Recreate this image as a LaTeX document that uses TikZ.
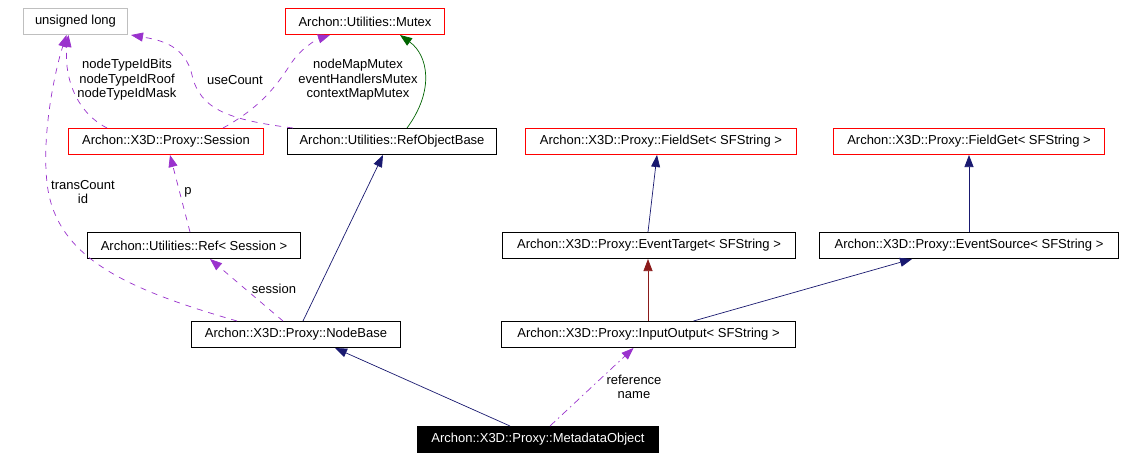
\documentclass[tikz,border=0pt]{standalone}
\usepackage{fontspec}
\setmainfont{Liberation Sans}
\usetikzlibrary{arrows.meta}
\definecolor{navyc}{RGB}{25,25,112}
\definecolor{redc}{RGB}{139,26,26}
\definecolor{greenc}{RGB}{0,100,0}
\definecolor{purpc}{RGB}{154,50,205}
\definecolor{grayc}{RGB}{191,191,191}
\begin{document}
\begin{tikzpicture}[x=1pt,y=-1pt,
  box/.style={draw=black,line width=1pt,minimum height=26pt,inner sep=0pt,font=\fontsize{13}{15}\selectfont,anchor=center},
  redbox/.style={box,draw=red},
  graybox/.style={box,draw=grayc},
  lbl/.style={font=\fontsize{13}{14.5}\selectfont,align=center,inner sep=0pt},
  inh/.style={-{Triangle[length=12pt,width=9pt]},draw=navyc,line width=0.7pt},
  inhp/.style={-{Triangle[length=12pt,width=9pt]},draw=redc,line width=0.7pt},
  inhg/.style={-{Triangle[length=12pt,width=9pt]},draw=greenc,line width=0.7pt},
  use/.style={-{Triangle[length=12pt,width=9pt,fill=purpc]},draw=purpc,line width=0.7pt,dash pattern=on 6pt off 6pt},
  usedd/.style={-{Triangle[length=12pt,width=9pt,fill=purpc]},draw=purpc,line width=0.7pt,dash pattern=on 7pt off 4pt on 1.5pt off 4pt}]
\useasboundingbox (0,0) rectangle (1124,459);
\fill[white] (0,0) rectangle (1124,459);
% nodes
\node[graybox,minimum width=104pt] (ul) at (75.5,21.5) {unsigned long};
\node[redbox,minimum width=159pt] (mutex) at (365,21.5) {Archon::Utilities::Mutex};
\node[redbox,minimum width=195pt] (session) at (166,141.5) {Archon::X3D::Proxy::Session};
\node[box,minimum width=209pt] (rob) at (392,141.5) {Archon::Utilities::RefObjectBase};
\node[redbox,minimum width=271pt] (fset) at (661,141.5) {Archon::X3D::Proxy::FieldSet< SFString >};
\node[redbox,minimum width=271pt] (fget) at (969,141.5) {Archon::X3D::Proxy::FieldGet< SFString >};
\node[box,minimum width=213pt] (ref) at (194,245.5) {Archon::Utilities::Ref< Session >};
\node[box,minimum width=293pt] (etarget) at (649,245.5) {Archon::X3D::Proxy::EventTarget< SFString >};
\node[box,minimum width=299pt] (esource) at (969,245.5) {Archon::X3D::Proxy::EventSource< SFString >};
\node[box,minimum width=209pt] (nodebase) at (296,334.5) {Archon::X3D::Proxy::NodeBase};
\node[box,minimum width=294pt] (io) at (648.5,334.5) {Archon::X3D::Proxy::InputOutput< SFString >};
\node[box,minimum width=241pt,fill=black,text=white] (meta) at (538,439.5) {Archon::X3D::Proxy::MetadataObject};
% edges
\draw[use] ([xshift=-59pt]nodebase.north) .. controls (130,290) and (60,260) .. (48,190)
  .. controls (40,140) and (55,70) .. ([xshift=-9pt]ul.south);
\draw[use] ([xshift=-59pt]session.north) .. controls (72,110) and (64,70) .. ([xshift=-7pt]ul.south);
\draw[use] ([xshift=-99pt]rob.north) .. controls (230,120) and (200,110) .. (192,75)
  .. controls (185,45) and (160,40) .. ([xshift=3pt]ul.south east);
\draw[use] ([xshift=57pt]session.north) .. controls (265,105) and (280,80) .. (292,62)
  .. controls (300,50) and (315,40) .. ([xshift=-35pt]mutex.south);
\draw[inhg] ([xshift=15pt]rob.north) .. controls (435,90) and (428,55) .. ([xshift=35pt]mutex.south);
\draw[use] ([xshift=-4pt]ref.north) -- ([xshift=4pt]session.south);
\draw[use] ([xshift=-13pt]nodebase.north) -- ([xshift=16pt]ref.south);
\draw[inh] ([xshift=7pt]nodebase.north) -- ([xshift=-9pt]rob.south);
\draw[inhp] ([xshift=-0.5pt]io.north) -- ([xshift=-1pt]etarget.south);
\draw[inh] ([xshift=45pt]io.north) -- ([xshift=-57pt]esource.south);
\draw[inh] ([xshift=-1pt]etarget.north) -- ([xshift=-4pt]fset.south);
\draw[inh] (esource.north) -- (fget.south);
\draw[inh] ([xshift=-28pt]meta.north) -- ([xshift=39pt]nodebase.south);
\draw[usedd] ([xshift=12pt]meta.north) -- ([xshift=-15pt]io.south);
% labels
\node[lbl] (l1) at (83,192) {transCount\\id};
\node[lbl] (l2) at (127,80) {nodeTypeIdBits\\nodeTypeIdRoof\\nodeTypeIdMask};
\node[lbl] (l3) at (235,80) {useCount};
\node[lbl] (l4) at (358,80) {nodeMapMutex\\eventHandlersMutex\\contextMapMutex};
\node[lbl] (l5) at (188,192) {p};
\node[lbl] (l6) at (274,289) {session};
\node[lbl] (l7) at (634,387) {reference\\name};
\end{tikzpicture}
\end{document}
